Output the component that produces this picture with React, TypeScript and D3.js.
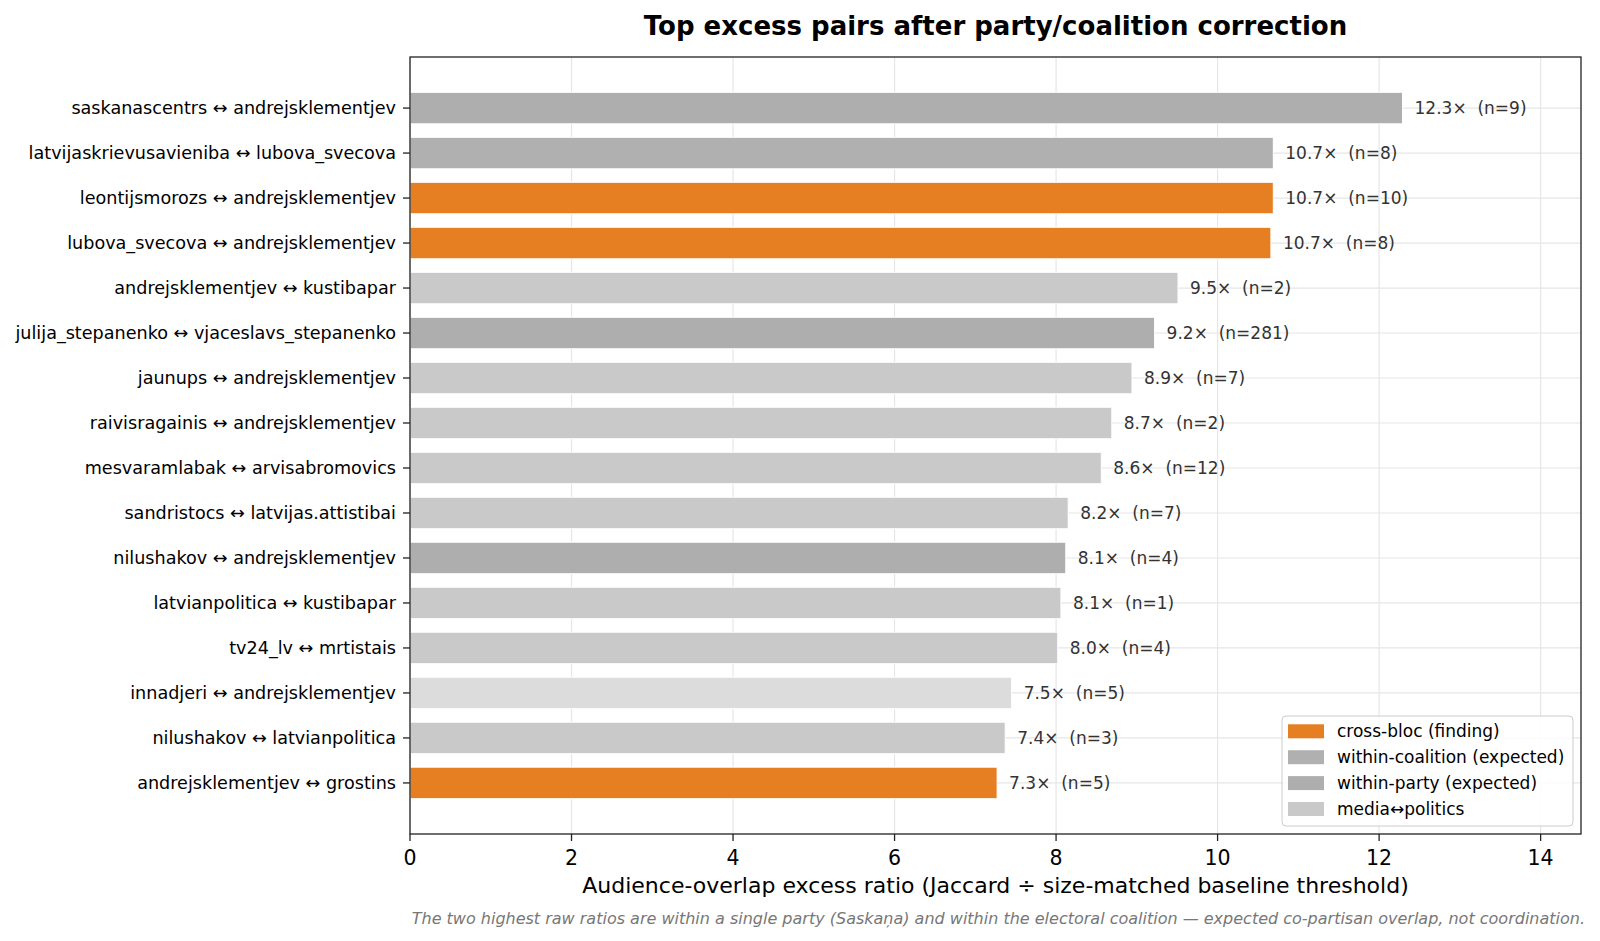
import React from "react";
import * as d3 from "d3";

const pairs = [
  "saskanascentrs ↔ andrejsklementjev",
  "latvijaskrievusavieniba ↔ lubova_svecova",
  "leontijsmorozs ↔ andrejsklementjev",
  "lubova_svecova ↔ andrejsklementjev",
  "andrejsklementjev ↔ kustibapar",
  "julija_stepanenko ↔ vjaceslavs_stepanenko",
  "jaunups ↔ andrejsklementjev",
  "raivisragainis ↔ andrejsklementjev",
  "mesvaramlabak ↔ arvisabromovics",
  "sandristocs ↔ latvijas.attistibai",
  "nilushakov ↔ andrejsklementjev",
  "latvianpolitica ↔ kustibapar",
  "tv24_lv ↔ mrtistais",
  "innadjeri ↔ andrejsklementjev",
  "nilushakov ↔ latvianpolitica",
  "andrejsklementjev ↔ grostins",
];
const ratios = [12.29, 10.69, 10.69, 10.66, 9.51, 9.22, 8.94, 8.69, 8.56, 8.15, 8.12, 8.06, 8.02, 7.45, 7.37, 7.27];
const counts = [9, 8, 10, 8, 2, 281, 7, 2, 12, 7, 4, 1, 4, 5, 3, 5];
const kinds = [
  "party", "coalition", "cross", "cross", "media", "party", "media", "media",
  "media", "media", "party", "media", "media", "other", "media", "cross",
];
const xTicks = [0, 2, 4, 6, 8, 10, 12, 14];

const colors: Record<string, string> = {
  cross: "#e67e22",
  coalition: "#b0b0b0",
  party: "#aeaeae",
  media: "#c9c9c9",
  other: "#dcdcdc",
};
const legendItems = [
  { key: "cross", label: "cross-bloc (finding)" },
  { key: "coalition", label: "within-coalition (expected)" },
  { key: "party", label: "within-party (expected)" },
  { key: "media", label: "media↔politics" },
];

const W = 1600;
const H = 941;
const left = 410, right = 1581, top = 57, bottom = 834;
const font = "'DejaVu Sans', sans-serif";

export default function App() {
  const x = d3.scaleLinear().domain([0, 14.5]).range([left, right]);
  const y = d3.scaleLinear().domain([-1.135, 16.135]).range([top, bottom]);
  const barH = y(0.7) - y(0);

  return (
    <svg width={W} height={H} style={{ position: "absolute", left: 0, top: 0, background: "#fff" }} fontFamily={font}>
      <text x={(left + right) / 2} y={35} textAnchor="middle" fontSize={26} fontWeight="bold" fill="#000">
        Top excess pairs after party/coalition correction
      </text>

      {/* grid */}
      {xTicks.map((t) => (
        <line key={"gx" + t} x1={x(t)} x2={x(t)} y1={top} y2={bottom} stroke="#e6e6e6" strokeWidth={1.2} />
      ))}
      {pairs.map((_, i) => (
        <line key={"gy" + i} x1={left} x2={right} y1={y(i)} y2={y(i)} stroke="#e6e6e6" strokeWidth={1.2} />
      ))}

      {/* bars */}
      {pairs.map((p, i) => (
        <rect
          key={p}
          x={x(0)}
          y={y(i) - barH / 2}
          width={x(ratios[i]) - x(0)}
          height={barH}
          fill={colors[kinds[i]]}
          stroke="#fff"
          strokeWidth={1}
        />
      ))}

      {/* value labels */}
      {pairs.map((p, i) => (
        <text key={"v" + i} x={x(ratios[i]) + 12} y={y(i)} dy="0.35em" fontSize={17} fill="#333">
          {ratios[i].toFixed(1)}×{"\u00a0\u00a0"}(n={counts[i]})
        </text>
      ))}

      {/* axes frame */}
      <rect x={left} y={top} width={right - left} height={bottom - top} fill="none" stroke="#222" strokeWidth={1.3} />

      {/* y ticks */}
      {pairs.map((p, i) => (
        <g key={"yt" + i}>
          <line x1={left - 7} x2={left} y1={y(i)} y2={y(i)} stroke="#222" strokeWidth={1.3} />
          <text x={396} y={y(i)} dy="0.35em" textAnchor="end" fontSize={17.6} fill="#000">
            {p}
          </text>
        </g>
      ))}

      {/* x ticks */}
      {xTicks.map((t) => (
        <g key={"xt" + t}>
          <line x1={x(t)} x2={x(t)} y1={bottom} y2={bottom + 7} stroke="#222" strokeWidth={1.3} />
          <text x={x(t)} y={865} textAnchor="middle" fontSize={20.5} fill="#000">
            {t}
          </text>
        </g>
      ))}
      <text x={(left + right) / 2} y={893} textAnchor="middle" fontSize={22} fill="#000">
        Audience-overlap excess ratio (Jaccard ÷ size-matched baseline threshold)
      </text>

      {/* legend */}
      <g>
        <rect x={1282} y={716} width={291} height={110} rx={4} fill="#fff" fillOpacity={0.85} stroke="#cccccc" />
        {legendItems.map((it, k) => (
          <g key={it.key}>
            <rect x={1288} y={724.3 + k * 25.9} width={36} height={14} fill={colors[it.key]} />
            <text x={1337} y={731.3 + k * 25.9} dy="0.35em" fontSize={17} fill="#000">
              {it.label}
            </text>
          </g>
        ))}
      </g>

      <text x={1585} y={924} textAnchor="end" fontSize={16} fontStyle="italic" fill="#777">
        The two highest raw ratios are within a single party (Saskaņa) and within the electoral coalition — expected co-partisan overlap, not coordination.
      </text>
    </svg>
  );
}
